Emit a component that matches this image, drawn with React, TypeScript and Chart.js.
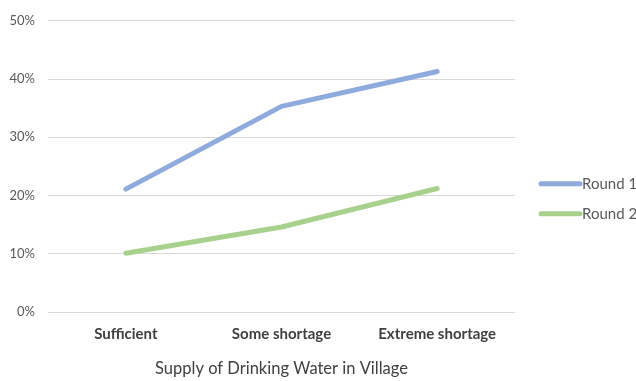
import React, { useEffect, useRef } from "react";
import { Chart, registerables } from "chart.js";

Chart.register(...registerables);

const categories = ["Sufficient", "Some shortage", "Extreme shortage"];
const seriesNames = ["Round 1", "Round 2"];
const round1 = [21.1, 35.3, 41.3];
const round2 = [10.1, 14.6, 21.2];
const yMin = 0;
const yMax = 50;
const yStep = 10;
const xAxisTitle = "Supply of Drinking Water in Village";

const colors = ["#8FAADC", "#A9D18E"];
const FONT = "Lato, 'Open Sans', sans-serif";

// Legend drawn at the right of the plot: short thick line plus the series name.
const sideLegend = {
  id: "sideLegend",
  afterDraw(chart: any) {
    const { ctx, chartArea } = chart;
    const x0 = chartArea.right + 26;
    const lineLen = 39;
    ctx.save();
    chart.data.datasets.forEach((ds: any, i: number) => {
      const y = chartArea.top + 163 + i * 30;
      ctx.strokeStyle = ds.borderColor;
      ctx.lineWidth = 5;
      ctx.lineCap = "round";
      ctx.beginPath();
      ctx.moveTo(x0, y);
      ctx.lineTo(x0 + lineLen, y);
      ctx.stroke();
      ctx.fillStyle = "#595959";
      ctx.font = `15px ${FONT}`;
      ctx.textBaseline = "middle";
      ctx.textAlign = "left";
      ctx.fillText(ds.label, x0 + lineLen + 2, y);
    });
    ctx.restore();
  },
};

export default function App() {
  const ref = useRef<HTMLCanvasElement>(null);

  useEffect(() => {
    if (!ref.current) return;
    const chart = new Chart(ref.current, {
      type: "line",
      data: {
        labels: categories,
        datasets: [round1, round2].map((values, i) => ({
          label: seriesNames[i],
          data: values,
          borderColor: colors[i],
          backgroundColor: colors[i],
          borderWidth: 5,
          borderCapStyle: "round",
          borderJoinStyle: "round",
          pointRadius: 0,
          pointHoverRadius: 0,
          tension: 0,
          fill: false,
        })),
      },
      options: {
        animation: false,
        responsive: false,
        maintainAspectRatio: false,
        layout: { padding: { left: 0, top: 17, right: 121, bottom: 0 } },
        plugins: {
          legend: { display: false },
          tooltip: { enabled: false },
        },
        scales: {
          x: {
            offset: true,
            grid: { display: false, drawTicks: false },
            border: { display: false },
            ticks: {
              padding: 13,
              color: "#404040",
              font: { family: FONT, size: 15, weight: "bold" },
            },
            title: {
              display: true,
              text: xAxisTitle,
              color: "#404040",
              font: { family: FONT, size: 16.5 },
              padding: { top: 0, bottom: 2 },
            },
            afterFit: (s: any) => {
              s.height = 69;
            },
          },
          y: {
            min: yMin,
            max: yMax,
            grid: { color: "#D9D9D9", lineWidth: 1, drawTicks: false },
            border: { display: false },
            ticks: {
              stepSize: yStep,
              padding: 13,
              color: "#595959",
              font: { family: FONT, size: 13 },
              callback: (v: any) => `${v}%`,
            },
            afterFit: (s: any) => {
              s.width = 48;
            },
          },
        },
      },
      plugins: [sideLegend],
    });
    return () => chart.destroy();
  }, []);

  return (
    <div
      style={{
        position: "fixed",
        left: 0,
        top: 0,
        width: 636,
        height: 381,
        background: "#fff",
      }}
    >
      <canvas ref={ref} width={636} height={381} />
    </div>
  );
}
